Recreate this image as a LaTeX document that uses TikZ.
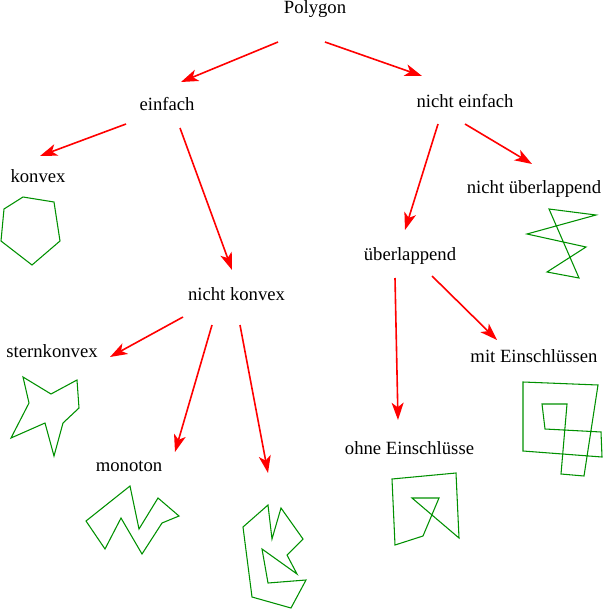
\documentclass[tikz,border=0pt]{standalone}
\usepackage{fontspec}
\setmainfont{Liberation Serif}
\usetikzlibrary{arrows.meta}
\definecolor{figgreen}{RGB}{0,144,0}
\begin{document}
\begin{tikzpicture}[x=0.75pt,y=-0.75pt,
  lbl/.style={anchor=base,inner sep=0pt,font=\fontsize{14}{16}\selectfont},
  arr/.style={red,line width=1.2pt,-{Stealth[length=13pt,width=9pt,inset=3.5pt]}},
  poly/.style={figgreen,line width=0.8pt,line join=miter}]
\useasboundingbox (0,0) rectangle (607,610);
% labels
\node[lbl] (polygon) at (315,14) {Polygon};
\node[lbl] (einfach) at (167,110) {einfach};
\node[lbl] (nichteinfach) at (465,108) {nicht einfach};
\node[lbl] (konvex) at (38,182) {konvex};
\node[lbl] (nichtueber) at (534,193) {nicht überlappend};
\node[lbl] (ueber) at (410,260) {überlappend};
\node[lbl] (nichtkonvex) at (236.5,300) {nicht konvex};
\node[lbl] (stern) at (52,357) {sternkonvex};
\node[lbl] (mitein) at (534,362) {mit Einschlüssen};
\node[lbl] (ohneein) at (409.5,454) {ohne Einschlüsse};
\node[lbl] (monoton) at (129,471) {monoton};
% arrow end points
\coordinate (a1s) at (278,42);  \coordinate (a1e) at (181,82);
\coordinate (a2s) at (325,42);  \coordinate (a2e) at (422,76);
\coordinate (a3s) at (126,124); \coordinate (a3e) at (40,156);
\coordinate (a4s) at (180,128); \coordinate (a4e) at (232,270);
\coordinate (a5s) at (438,124); \coordinate (a5e) at (405,230);
\coordinate (a6s) at (465,124); \coordinate (a6e) at (532,164);
\coordinate (a7s) at (183,317); \coordinate (a7e) at (110,357);
\coordinate (a8s) at (212,325); \coordinate (a8e) at (175,452);
\coordinate (a9s) at (240,325); \coordinate (a9e) at (268,473);
\coordinate (a10s) at (395,278); \coordinate (a10e) at (398,420);
\coordinate (a11s) at (432,276); \coordinate (a11e) at (497,340);
\foreach \i in {1,...,11} {\draw[arr] (a\i s) -- (a\i e);}
% polygons
\draw[poly] (23,197) -- (54,202) -- (60,241) -- (32,265) -- (1,241) -- (4,209) -- cycle;
\draw[poly] (549,209) -- (596,215) -- (527,234) -- (586,247) -- (547,272) -- (579,278) -- cycle;
\draw[poly] (23,377) -- (51,394) -- (77,380) -- (79,408) -- (63,423) -- (54,456) -- (45,423) -- (11,438) -- (29,403) -- cycle;
\draw[poly] (130,486) -- (139,529) -- (158,498) -- (179,516) -- (162,523) -- (142,554) -- (121,518) -- (105,549) -- (86,521) -- cycle;
\draw[poly] (268,505) -- (272,539) -- (281,508) -- (303,539) -- (287,555) -- (297,574) -- (262,549) -- (268,583) -- (306,580) -- (291,608) -- (252,597) -- (243,527) -- cycle;
\draw[poly] (392,479) -- (456,473) -- (459,538) -- (412,498) -- (439,498) -- (423,536) -- (395,545) -- cycle;
\draw[poly] (523,382) -- (598,385) -- (584,476) -- (561,474) -- (567,404) -- (542,404) -- (545,429) -- (601,432) -- (602,457) -- (523,451) -- cycle;
\end{tikzpicture}
\end{document}
